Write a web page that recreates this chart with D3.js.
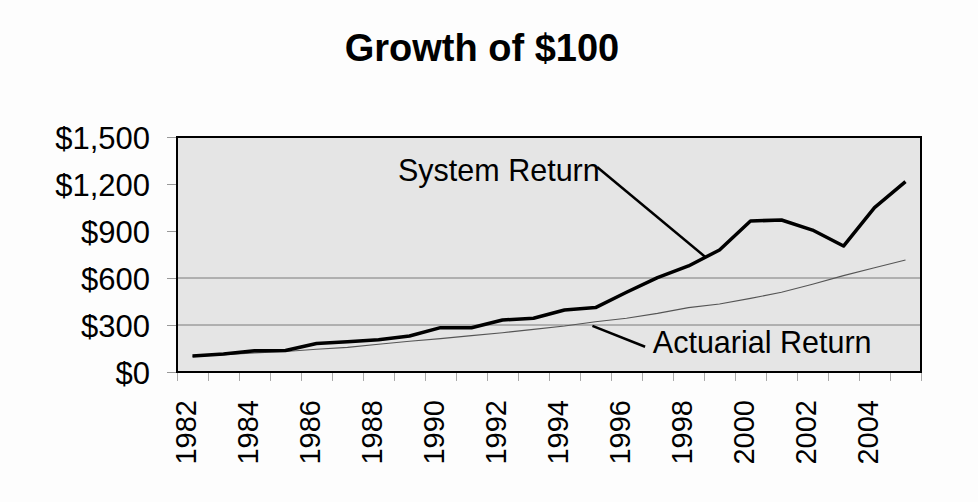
<!DOCTYPE html>
<html>
<head>
<meta charset="utf-8">
<script src="https://cdnjs.cloudflare.com/ajax/libs/d3/7.8.5/d3.min.js"></script>
<style>
  html, body { margin: 0; padding: 0; background: #fdfdfd; }
  svg { display: block; }
  text { font-family: "Liberation Sans", Arial, sans-serif; fill: #000; }
</style>
</head>
<body>
<svg id="chart" width="978" height="502"></svg>
<script>
// Growth of $100, 1982-2005
const years = d3.range(1982, 2006);
const systemReturn = [102, 115, 136, 137, 182, 193, 206, 230, 283, 282, 332, 343,
                      396, 411, 509, 602, 677, 779, 964, 970, 906, 804, 1049, 1215];
const actuarialReturn = [100, 110, 122, 131, 145, 157, 177, 196, 213, 232, 251, 272,
                         294, 321, 343, 374, 411, 434, 470, 509, 560, 615, 666, 715];
const yTicks = [0, 300, 600, 900, 1200, 1500];
const gridValues = [300, 600];
const labelYears = years.filter(y => y % 2 === 0);
const title = "Growth of $100";

// Callouts: label position and leader line in data units (year index / dollars)
const callouts = [
  { text: "System Return", tx: 6.63, ty: 1220, from: [13.05, 1308], to: [16.55, 733] },
  { text: "Actuarial Return", tx: 14.85, ty: 121, from: [12.9, 294], to: [14.6, 161] }
];

const svg = d3.select("#chart");
const m = { left: 177, right: 921, top: 137, bottom: 372 };

const x = d3.scaleBand().domain(years).range([m.left, m.right]).padding(0);
const xi = d3.scaleLinear().domain([0, years.length]).range([m.left, m.right]);
const y = d3.scaleLinear().domain([0, 1500]).range([m.bottom, m.top]);
const cx = d => x(d) + x.bandwidth() / 2;
// position from a fractional year index (index 0 = centre of first band)
const px = i => xi(i + 0.5);

// Title
svg.append("text")
  .attr("x", 482).attr("y", 61)
  .attr("text-anchor", "middle")
  .style("font-size", "38px").style("font-weight", "bold")
  .text(title);

// Plot area
svg.append("rect")
  .attr("x", m.left).attr("y", m.top)
  .attr("width", m.right - m.left).attr("height", m.bottom - m.top)
  .attr("fill", "#e5e5e5");

// Gridlines
svg.append("g").selectAll("line").data(gridValues).join("line")
  .attr("x1", m.left).attr("x2", m.right)
  .attr("y1", d => y(d)).attr("y2", d => y(d))
  .attr("stroke", "#7a7a7a").attr("stroke-width", 1);

// Y axis
const yAxis = svg.append("g")
  .attr("transform", `translate(${m.left},0)`)
  .call(d3.axisLeft(y).tickValues(yTicks).tickSize(10).tickPadding(17)
        .tickFormat(d3.format("$,")));
yAxis.select(".domain").remove();
yAxis.selectAll(".tick line").attr("stroke", "#999");
yAxis.selectAll("text").style("font-size", "31px").attr("dy", "0.36em")
  .style("font-family", "'Liberation Sans', Arial, sans-serif");

// X axis tick marks at category boundaries
const xTicks = svg.append("g")
  .attr("transform", `translate(0,${m.bottom})`)
  .call(d3.axisBottom(xi).tickValues(d3.range(years.length + 1)).tickSize(9).tickFormat(""));
xTicks.select(".domain").remove();
xTicks.selectAll(".tick line").attr("stroke", "#aaa");

// X axis labels, rotated
const xLabels = svg.append("g")
  .attr("transform", `translate(0,${m.bottom})`)
  .call(d3.axisBottom(x).tickValues(labelYears).tickSize(0));
xLabels.select(".domain").remove();
xLabels.selectAll("text")
  .attr("transform", "rotate(-90)")
  .attr("text-anchor", "end")
  .attr("x", -28).attr("y", -7).attr("dy", "0.36em")
  .style("font-size", "29px")
  .style("font-family", "'Liberation Sans', Arial, sans-serif");

// Series lines
const line = d3.line().x((d, i) => cx(years[i])).y(d => y(d));
svg.append("path").datum(actuarialReturn)
  .attr("d", line).attr("fill", "none")
  .attr("stroke", "#555").attr("stroke-width", 1.1);
svg.append("path").datum(systemReturn)
  .attr("d", line).attr("fill", "none")
  .attr("stroke", "#000").attr("stroke-width", 3.5)
  .attr("stroke-linejoin", "round");

// Plot border
svg.append("rect")
  .attr("x", m.left).attr("y", m.top)
  .attr("width", m.right - m.left).attr("height", m.bottom - m.top)
  .attr("fill", "none").attr("stroke", "#000").attr("stroke-width", 2);

// Callouts
const cg = svg.append("g");
callouts.forEach(c => {
  cg.append("line")
    .attr("x1", px(c.from[0])).attr("y1", y(c.from[1]))
    .attr("x2", px(c.to[0])).attr("y2", y(c.to[1]))
    .attr("stroke", "#000").attr("stroke-width", 2.5);
  cg.append("text")
    .attr("x", px(c.tx)).attr("y", y(c.ty))
    .style("font-size", "30.5px")
    .text(c.text);
});
</script>
</body>
</html>
